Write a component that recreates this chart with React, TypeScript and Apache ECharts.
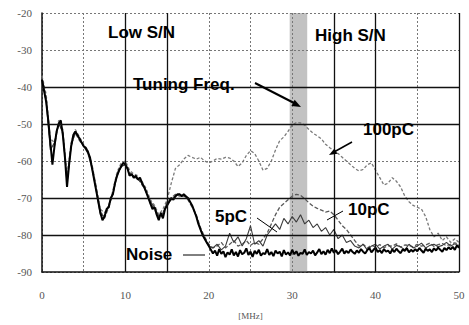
import React, { useEffect, useRef } from "react";
import * as echarts from "echarts";

// Frequency steps (MHz) for the sampled traces
const FINE_STEP = 0.25;
const COARSE_STEP = 0.5;

// Noise trace, 0..50 MHz every 0.25 MHz (dB)
const NOISE = [
  -38, -41, -44, -49,
  -55, -61, -56, -52,
  -50, -49, -53, -59,
  -67, -61, -56, -53,
  -52, -53, -54, -55,
  -56, -56.5, -57.5, -59,
  -62, -65, -68, -71,
  -74, -76, -75, -73,
  -72.5, -70, -69, -66,
  -64, -62.5, -61.5, -60.5,
  -61, -62, -64, -63.5,
  -64.5, -64, -65, -64.5,
  -66, -67, -68.5, -70,
  -71.5, -73, -72.5, -74.5,
  -76, -74, -75.5, -73,
  -72, -71, -70, -70.5,
  -69.5, -69, -69, -69.5,
  -69, -69.5, -70, -71,
  -72, -73.5, -75, -77,
  -78.5, -80, -81, -82,
  -83, -84, -85, -84.2,
  -85.6, -83.8, -85.1, -84.4,
  -86, -84.7, -85.3, -83.9,
  -85.5, -84.6, -85.8, -84.1,
  -85.2, -84.8, -83.6, -85.4,
  -84.5, -85.9, -84.3, -85.1,
  -84, -85.6, -84.9, -85.2,
  -83.8, -85.4, -84.6, -85.7,
  -84.2, -85, -84.5, -85.8,
  -84.1, -85.3, -84.7, -85.5,
  -84, -85.2, -84.4, -85.6,
  -84.8, -85.1, -83.9, -85.4,
  -84.6, -85, -84.2, -85.5,
  -84.7, -83.8, -85.2, -84.4,
  -85.3, -84, -84.9, -83.6,
  -84.8, -84.1, -85.2, -84.5,
  -83.7, -85, -84.3, -84.9,
  -83.9, -84.6, -85.1, -84.2,
  -84.8, -83.8, -84.5, -85,
  -84.1, -83.5, -84.7, -84,
  -83.4, -84.6, -84.1, -84.9,
  -83.8, -84.5, -84.2, -85,
  -83.9, -84.6, -83.7, -84.4,
  -84.9, -83.9, -84.3, -83.6,
  -84.7, -84, -84.5, -83.8,
  -84.4, -83.5, -84.2, -84.8,
  -83.7, -84.3, -83.9, -84.6,
  -83.6, -84.2, -83.4, -84,
  -84.5, -83.5, -84.1, -83.3,
  -83.9, -83.2, -84, -82.8,
  -83.5,
];

// 5pC trace, 0..50 MHz every 0.5 MHz (dB)
const PC5 = [
  -38, -44,
  -57, -55,
  -50, -52,
  -66, -56,
  -52, -54,
  -56, -58,
  -62, -68,
  -74.5, -75,
  -72, -69,
  -64, -61.5,
  -61, -63.5,
  -64, -65,
  -66, -68.5,
  -71, -72.5,
  -75, -74,
  -71.5, -70.5,
  -69.5, -69,
  -69.5, -70,
  -72, -75,
  -78.5, -81,
  -83, -83.5,
  -82.5, -84,
  -83, -79.5,
  -82, -80.5,
  -83, -81,
  -77.5, -82.5,
  -81.5, -83,
  -80, -78.5,
  -77, -78.5,
  -75.5, -77,
  -75, -76.5,
  -74.5, -77,
  -76, -78,
  -77, -79,
  -78, -80,
  -78.5, -81,
  -80, -82,
  -81.5, -83,
  -83.5, -82.5,
  -84, -83,
  -82.5, -83.8,
  -83, -82.5,
  -83.8, -82.8,
  -83.2, -84,
  -82.5, -83.5,
  -83, -82.2,
  -83.5, -82.8,
  -82.5, -83.2,
  -82.8, -82,
  -83, -82.4,
  -83,
];

// 10pC trace, 0..50 MHz every 0.5 MHz (dB)
const PC10 = [
  -37.5, -43,
  -56, -56,
  -49.5, -52.5,
  -65, -55.5,
  -52.5, -54.5,
  -56, -57.5,
  -61, -67,
  -73.5, -75.5,
  -72.5, -68.5,
  -63.5, -61,
  -60.5, -63,
  -64.5, -64.5,
  -66.5, -68,
  -71.5, -73,
  -75.5, -74.5,
  -71, -70,
  -69, -69.5,
  -69, -70.5,
  -72.5, -74.5,
  -78, -80.5,
  -82.5, -83.5,
  -83, -82,
  -83.5, -82.5,
  -81.5, -83,
  -82.5, -81.5,
  -82.8, -82,
  -82.5, -81,
  -79.5, -77,
  -74.5, -72.5,
  -71.5, -70.5,
  -69.5, -69,
  -69.3, -70.2,
  -71.3, -72.2,
  -72.8, -73.3,
  -73.8, -73.5,
  -74.5, -76,
  -77.5, -78.5,
  -80, -81.5,
  -83, -82.5,
  -83.5, -82.8,
  -83.2, -82.6,
  -83.4, -82.9,
  -83, -82.4,
  -83.3, -82.7,
  -82.8, -83.2,
  -82.5, -83,
  -82.7, -82.2,
  -83.1, -82.6,
  -82.3, -82.9,
  -82.5, -82.1,
  -82.6,
];

// 100pC trace, 0..50 MHz every 0.5 MHz (dB)
const PC100 = [
  -37, -42,
  -54, -55,
  -49, -51.5,
  -64, -55,
  -51.5, -53.5,
  -55.5, -57,
  -61.5, -67.5,
  -73, -74,
  -72, -68,
  -63, -60.5,
  -60, -62.5,
  -63.5, -64,
  -65.5, -67.5,
  -70.5, -72,
  -74.5, -73,
  -70.5, -66,
  -62, -61,
  -59.5, -58.5,
  -59, -59.5,
  -59, -60,
  -60.5, -60,
  -59.3, -59.5,
  -59, -59.2,
  -60, -61.5,
  -60.5, -58.5,
  -57.2, -58,
  -60, -62.5,
  -62, -60,
  -57, -54.5,
  -53.5, -52,
  -50.3, -49.6,
  -49.7, -50.3,
  -51.5, -52.5,
  -53.2, -54,
  -55.5, -56.4,
  -57.2, -58,
  -59, -60,
  -61, -62,
  -62.7, -62.3,
  -61, -60.5,
  -62.5, -64.5,
  -66.5, -66,
  -64.5, -65.5,
  -67, -69.5,
  -71, -72,
  -72.5, -73,
  -75, -78.5,
  -80.5, -79.5,
  -81.5, -80.5,
  -82, -81,
  -82,
];

// Tuning frequency band (MHz)
const TUNING_BAND = [29.7, 31.8];

// Axis ranges / gridline values
const X_RANGE = [0, 50];
const Y_RANGE = [-90, -20];
const SOLID_X_LINES = [10, 15, 35, 40, 50];
const SOLID_Y_LINES = [-40, -50, -70, -80];

const toPairs = (arr: number[], step: number) => arr.map((v, i) => [i * step, v]);

function arrowHead(x1: number, y1: number, x2: number, y2: number, len: number, w: number) {
  const a = Math.atan2(y2 - y1, x2 - x1);
  const bx = x2 - len * Math.cos(a);
  const by = y2 - len * Math.sin(a);
  const px = (-Math.sin(a) * w) / 2;
  const py = (Math.cos(a) * w) / 2;
  return [
    [x2, y2],
    [bx + px, by + py],
    [bx - px, by - py],
  ];
}

const LABEL_FONT = '"Liberation Sans", Arial, sans-serif';

export default function App() {
  const ref = useRef<HTMLDivElement>(null);

  useEffect(() => {
    if (!ref.current) return;
    const chart = echarts.init(ref.current, undefined, { renderer: "svg" });

    const txt = (text: string, x: number, y: number) => ({
      type: "text",
      x,
      y,
      z: 100,
      style: {
        text,
        fill: "#000",
        fontSize: 17,
        fontWeight: "bold",
        fontFamily: LABEL_FONT,
        verticalAlign: "middle",
        align: "left",
      },
    });
    const seg = (x1: number, y1: number, x2: number, y2: number, w: number) => ({
      type: "line",
      z: 100,
      shape: { x1, y1, x2, y2 },
      style: { stroke: "#000", lineWidth: w },
    });
    const head = (x1: number, y1: number, x2: number, y2: number, len: number, w: number) => ({
      type: "polygon",
      z: 100,
      shape: { points: arrowHead(x1, y1, x2, y2, len, w) },
      style: { fill: "#000" },
    });

    const option: any = {
      animation: false,
      backgroundColor: "#fff",
      grid: { left: 42, right: 10, top: 13, bottom: 43, containLabel: false },
      xAxis: {
        type: "value",
        min: X_RANGE[0],
        max: X_RANGE[1],
        interval: 5,
        name: "[MHz]",
        nameLocation: "middle",
        nameGap: 39,
        nameTextStyle: { fontSize: 9, color: "#555", fontFamily: "Liberation Serif, serif" },
        axisLine: { show: true, lineStyle: { color: "#111", width: 1.5 } },
        axisTick: { show: false },
        axisLabel: {
          margin: 17,
          fontSize: 11,
          color: "#555",
          fontFamily: "Liberation Serif, serif",
          formatter: (v: number) => (v % 10 === 0 ? String(v) : ""),
        },
        splitLine: { show: true, lineStyle: { color: "#777", width: 1, type: [2, 2] } },
      },
      yAxis: {
        type: "value",
        min: Y_RANGE[0],
        max: Y_RANGE[1],
        interval: 10,
        axisLine: { show: true, lineStyle: { color: "#111", width: 1.5 } },
        axisTick: { show: false },
        axisLabel: {
          margin: 10,
          fontSize: 11,
          color: "#555",
          fontFamily: "Liberation Serif, serif",
        },
        splitLine: { show: true, lineStyle: { color: "#777", width: 1, type: [2, 2] } },
      },
      series: [
        {
          name: "grid",
          type: "line",
          data: [],
          silent: true,
          markLine: {
            silent: true,
            symbol: "none",
            label: { show: false },
            lineStyle: { color: "#111", width: 1.3, type: "solid" },
            data: [
              ...SOLID_X_LINES.map((v) => ({ xAxis: v })),
              ...SOLID_Y_LINES.map((v) => ({ yAxis: v })),
            ],
          },
          markArea: {
            silent: true,
            itemStyle: { color: "rgba(120,120,120,0.45)" },
            data: [[{ xAxis: TUNING_BAND[0] }, { xAxis: TUNING_BAND[1] }]],
          },
        },
        {
          name: "100pC",
          type: "line",
          data: toPairs(PC100, COARSE_STEP),
          symbol: "none",
          lineStyle: { color: "#7a7a7a", width: 1.3, type: [3, 2] },
        },
        {
          name: "10pC",
          type: "line",
          data: toPairs(PC10, COARSE_STEP),
          symbol: "none",
          lineStyle: { color: "#5a5a5a", width: 1.3, type: [4, 2] },
        },
        {
          name: "5pC",
          type: "line",
          data: toPairs(PC5, COARSE_STEP),
          symbol: "none",
          lineStyle: { color: "#3a3a3a", width: 1.1 },
        },
        {
          name: "Noise",
          type: "line",
          data: toPairs(NOISE, FINE_STEP),
          symbol: "none",
          lineStyle: { color: "#000", width: 2 },
        },
      ],
      graphic: [
        txt("Low S/N", 108, 32),
        txt("High S/N", 315, 35),
        txt("Tuning Freq.", 133, 84),
        txt("100pC", 363, 129),
        txt("10pC", 348, 209),
        txt("5pC", 215, 216),
        txt("Noise", 126, 254),
        seg(255, 83, 296, 104, 2),
        head(255, 83, 301, 107, 9, 7),
        seg(352, 142, 334, 152, 1.5),
        head(352, 142, 329, 155, 8, 6),
        seg(343, 211, 327, 220, 1),
        seg(257, 218, 277, 232, 1),
        seg(183, 255, 205, 255, 1),
      ],
    };

    chart.setOption(option);
    return () => chart.dispose();
  }, []);

  return (
    <div
      ref={ref}
      style={{ position: "absolute", left: 0, top: 0, width: 469, height: 325, background: "#fff" }}
    />
  );
}
